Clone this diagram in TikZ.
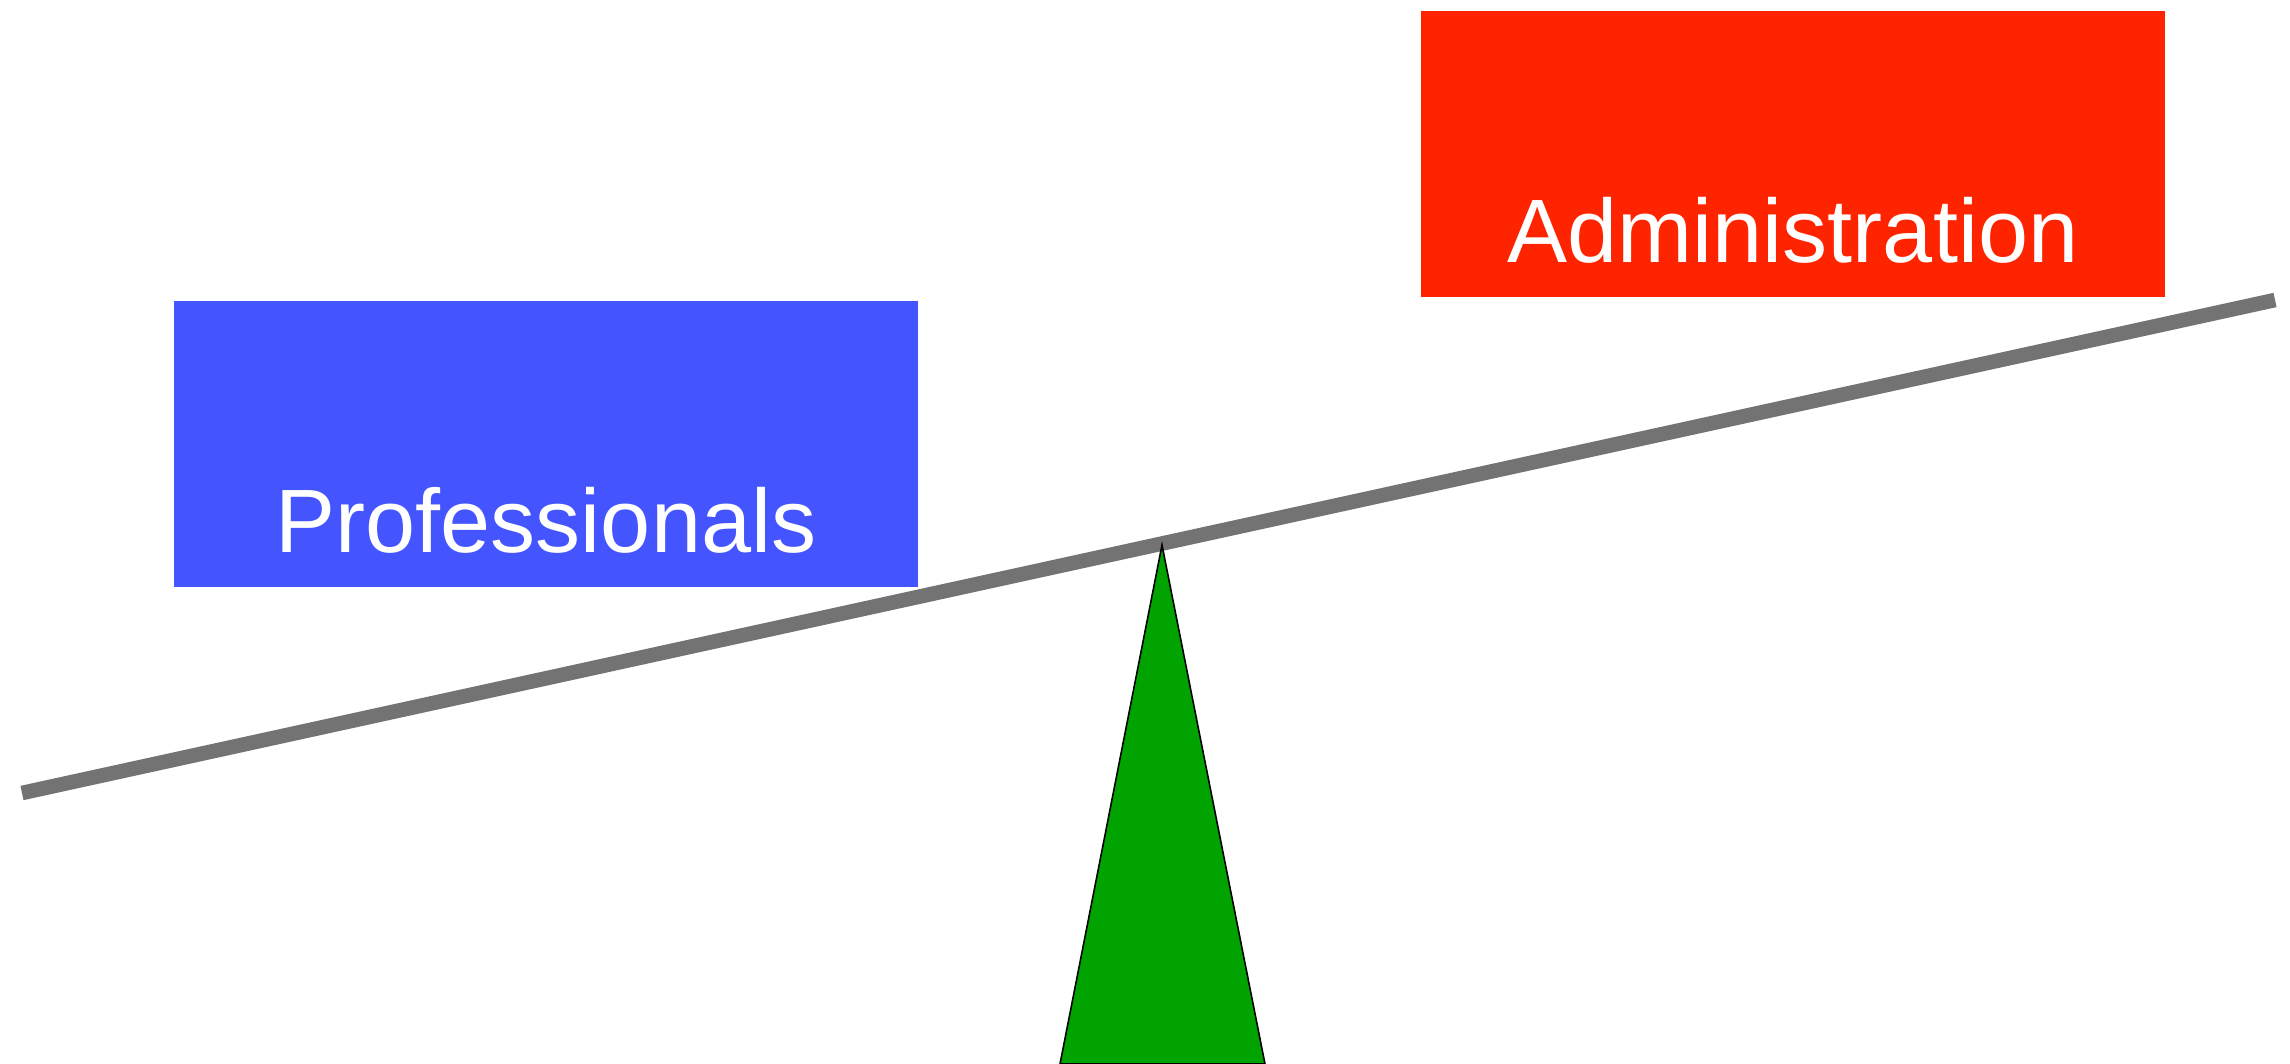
\documentclass[tikz,border=0pt]{standalone}
\usepackage{fontspec}
\setmainfont{Liberation Sans}
\definecolor{profblue}{HTML}{4455FF}
\definecolor{adminred}{HTML}{FF2400}
\definecolor{beamgray}{HTML}{737373}
\definecolor{fulcrumgreen}{HTML}{00A300}
\tikzset{
	box/.style={rectangle, inner sep=0pt, outer sep=0pt, minimum width=7.44cm, minimum height=2.86cm},
	boxtext/.style={anchor=base, inner sep=0pt, text=white, font=\fontsize{25.6}{30}\selectfont},
	beam/.style={draw=beamgray, line width=0.146cm, line cap=butt},
	fulcrum/.style={fill=fulcrumgreen, draw=black, line width=0.45pt, line join=miter}
}
\begin{document}
\begin{tikzpicture}[x=0.01cm, y=-0.01cm]
	\useasboundingbox (0,0) rectangle (2290,1064);
	% weights
	\node[box, fill=profblue] (prof) at (546,444) {};
	\node[boxtext] (proftext) at ([yshift=0.35cm]prof.south) {Professionals};
	\node[box, fill=adminred] (admin) at (1793,154) {};
	\node[boxtext] (admintext) at ([yshift=0.35cm]admin.south) {Administration};
	% beam
	\coordinate (beamL) at (22,793);
	\coordinate (beamR) at (2275,300);
	\draw[beam] (beamL) -- (beamR);
	% fulcrum
	\coordinate (apex) at (1162,545);
	\coordinate (baseL) at (1060,1064);
	\coordinate (baseR) at (1265,1064);
	\draw[fulcrum] (apex) -- (baseR) -- (baseL) -- cycle;
\end{tikzpicture}
\end{document}
